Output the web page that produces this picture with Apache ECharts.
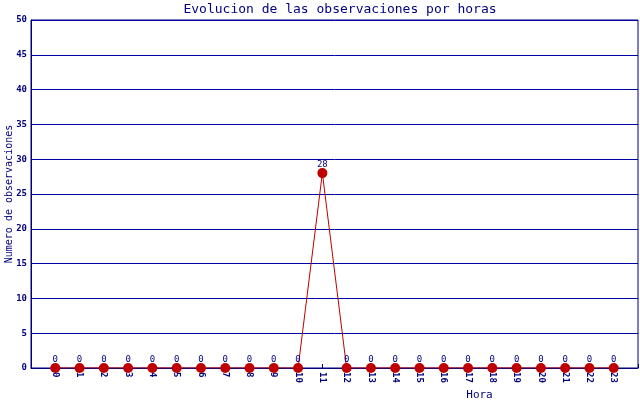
<!DOCTYPE html>
<html><head><meta charset="utf-8">
<script src="https://cdn.jsdelivr.net/npm/echarts@6/dist/echarts.min.js"></script>
<style>html,body{margin:0;padding:0;background:#fff}#c{width:640px;height:400px}</style>
</head><body><div id="c"></div>
<script>
const hours = [0,1,2,3,4,5,6,7,8,9,10,11,12,13,14,15,16,17,18,19,20,21,22,23];
const counts = [0,0,0,0,0,0,0,0,0,0,0,28,0,0,0,0,0,0,0,0,0,0,0,0];
const yTicks = [0,5,10,15,20,25,30,35,40,45,50];
const titleText = 'Evolucion de las observaciones por horas';
const xName = 'Hora';
const yName = 'Numero de observaciones';

const navy = '#000080';
const mono = 'DejaVu Sans Mono';
const chart = echarts.init(document.getElementById('c'), null, {renderer:'canvas'});
chart.setOption({
  animation:false,
  backgroundColor:'#fff',
  title:{text:titleText,left:335,textAlign:'center',top:-2,
    textStyle:{color:navy,fontFamily:mono,fontSize:13,fontWeight:'normal'}},
  grid:{left:31,right:2,top:20,bottom:32,show:true,borderColor:navy,borderWidth:1,
    backgroundColor:'transparent',containLabel:false,outerBoundsMode:'none'},
  xAxis:{type:'value',min:-1,max:24,interval:1,
    name:xName,nameLocation:'middle',nameGap:22,nameMoveOverlap:false,
    nameTextStyle:{color:navy,fontFamily:mono,fontSize:11,padding:[0,0,0,290]},
    axisLine:{onZero:false,lineStyle:{color:navy,width:1}},
    axisTick:{show:true,inside:true,length:4,lineStyle:{color:navy}},
    splitLine:{show:false},
    axisLabel:{rotate:-90,color:navy,fontFamily:mono,fontSize:9,fontWeight:'bold',margin:4,
      formatter:v=>hours.indexOf(v)>=0?String(v):''}},
  yAxis:{type:'value',min:yTicks[0],max:yTicks[yTicks.length-1],interval:yTicks[1]-yTicks[0],
    name:yName,nameLocation:'middle',nameGap:17,nameMoveOverlap:false,
    nameTextStyle:{color:navy,fontFamily:mono,fontSize:10},
    axisLine:{show:true,onZero:false,lineStyle:{color:navy,width:1}},
    axisTick:{show:false},
    splitLine:{show:true,lineStyle:{color:'#0000a8',width:1,opacity:1}},
    axisLabel:{color:navy,fontFamily:mono,fontSize:9,fontWeight:'bold',margin:4}},
  series:[{type:'line',data:hours.map((h,i)=>[h,counts[i]]),
    symbol:'circle',symbolSize:10,
    lineStyle:{color:'#c00000',width:1},
    itemStyle:{color:'#c00000'},
    label:{show:true,position:'top',distance:-1,color:navy,fontFamily:mono,fontSize:9}}]
});
</script></body></html>
